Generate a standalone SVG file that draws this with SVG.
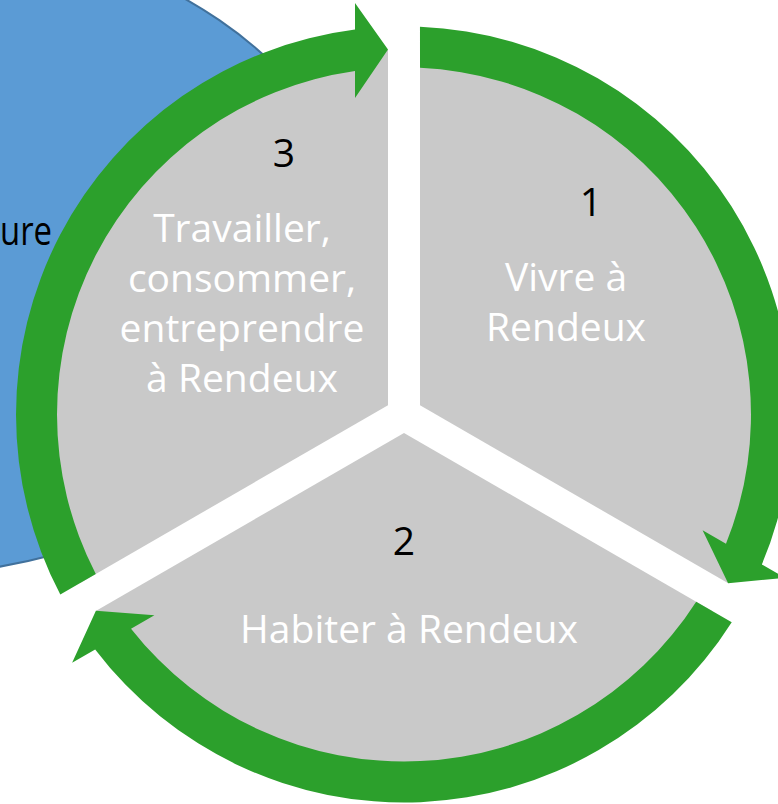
<svg xmlns="http://www.w3.org/2000/svg" xmlns:xlink="http://www.w3.org/1999/xlink" width="778" height="804" viewBox="0 0 778 804">
<style>
.seg{fill:#c9c9c9}
.arc{fill:#2ca02c}
.lbl{font-family:'Open Sans','Noto Sans','DejaVu Sans',sans-serif;font-size:39px;fill:#ffffff;text-anchor:middle}
.num{font-family:'Open Sans','Noto Sans','DejaVu Sans',sans-serif;font-size:39px;fill:#000000;text-anchor:middle}
</style>
<defs>
<path id="arcShape" d="M 60.3,594.5 A 388 388 0 0 1 355,29.6 L 355,3 L 388,49.5 L 355,98 L 355,71 A 347 347 0 0 0 95.8,573.95 Z"/>
</defs>
<rect width="778" height="804" fill="#ffffff"/>
<g id="blue-node">
<ellipse cx="-118" cy="250.7" rx="477" ry="326" fill="#5b9bd5" stroke="#41719c" stroke-width="2"/>
<text class="num" x="0" y="245" style="text-anchor:start;font-size:40px" textLength="52" lengthAdjust="spacingAndGlyphs">ure</text>
</g>
<g id="node-1">
<path class="seg" d="M 420,405.25 L 420,49.85 A 365 365 0 0 1 727.8,582.97 Z"/>
<text class="num" x="591" y="216">1</text>
<text class="lbl" x="566" y="291">Vivre à</text>
<text class="lbl" x="566" y="341">Rendeux</text>
</g>
<g id="node-2">
<path class="seg" d="M 404,433 L 711.8,610.7 A 365 365 0 0 1 96.2,610.7 Z"/>
<text class="num" x="404" y="555">2</text>
<text class="lbl" x="409" y="643">Habiter à Rendeux</text>
</g>
<g id="node-3">
<path class="seg" d="M 388,405.25 L 80.2,582.97 A 365 365 0 0 1 388,49.85 Z"/>
<text class="num" x="284" y="167">3</text>
<text class="lbl" x="242" y="242">Travailler,</text>
<text class="lbl" x="242" y="292">consommer,</text>
<text class="lbl" x="242" y="342">entreprendre</text>
<text class="lbl" x="242" y="392">à Rendeux</text>
</g>
<g id="connectors">
<use xlink:href="#arcShape" class="arc" transform="rotate(120 404 414.5)"/>
<use xlink:href="#arcShape" class="arc" transform="rotate(240 404 414.5)"/>
<use xlink:href="#arcShape" class="arc"/>
</g>
</svg>
